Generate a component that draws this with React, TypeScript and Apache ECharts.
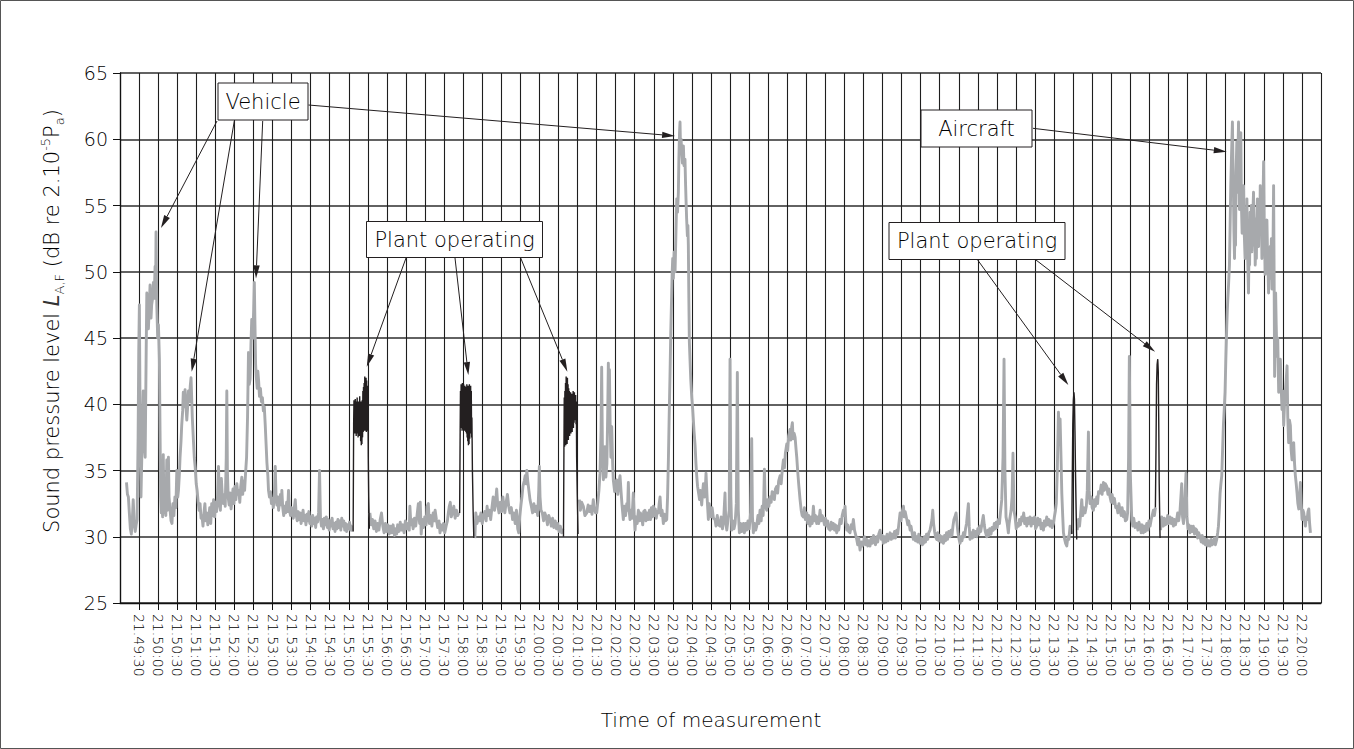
import React, { useEffect, useRef } from 'react';
import * as echarts from 'echarts';

// Time axis: seconds after 21:49:00
const TIME_LABELS = [
  '21.49:30', '21.50:00', '21.50:30', '21.51:00', '21.51:30', '21.52:00', '21.52:30', '21.53:00',
  '21.53:30', '21.54:00', '21.54:30', '21.55:00', '21.55:30', '21.56:00', '21.56:30', '21.57:00',
  '21.57:30', '21.58:00', '21.58:30', '21.59:00', '21.59:30', '22.00:00', '22.00:30', '22.01:00',
  '22.01:30', '22.02:00', '22.02:30', '22.03:00', '22.03:30', '22.04:00', '22.04:30', '22.05:00',
  '22.05:30', '22.06:00', '22.06:30', '22.07:00', '22.07:30', '22.08:00', '22.08:30', '22.09:00',
  '22.09:30', '22.10:00', '22.10:30', '22.11:00', '22.11:30', '22.12:00', '22.12:30', '22.13:00',
  '22.13:30', '22.14:00', '22.14:30', '22.15:00', '22.15:30', '22.16:00', '22.16:30', '22.17:00',
  '22.17:30', '22.18:00', '22.18:30', '22.19:00', '22.19:30', '22.20:00',
];

// Background sound level (grey trace), [seconds after 21:49:00, dB]
const GRAY_A = [
  [10.2,34.1],[11.7,33.2],[13.2,33.0],[14.7,31.8],[16.3,30.6],[17.8,30.2],[19.3,31.2],[20.8,32.8],[22.4,31.0],[23.9,30.4],
  [25.4,30.9],[26.9,31.3],[28.5,37.5],[29.5,44.0],[30.5,47.5],[31.5,40.0],[33.0,33.0],[34.5,36.5],[36.6,41.0],[38.1,37.0],
  [39.6,36.0],[41.2,44.0],[42.2,48.4],[43.7,46.0],[44.7,45.7],[46.2,47.5],[47.3,49.0],[48.8,46.5],[49.8,47.5],[51.3,48.0],
  [52.5,49.2],[53.9,48.0],[55.2,50.4],[56.1,48.5],[56.7,53.0],[57.9,47.5],[59.3,45.0],[60.5,46.0],[62.0,43.4],[63.0,38.0],
  [64.0,33.0],[65.0,31.8],[66.0,32.5],[67.1,31.5],[68.1,36.2],[69.1,32.5],[70.1,31.8],[71.1,33.0],[72.1,31.6],[73.6,35.8],
  [74.7,32.0],[76.2,36.0],[77.2,33.0],[78.8,32.0],[80.3,31.2],[81.8,31.0],[83.3,32.5],[84.8,31.6],[86.4,33.0],[87.9,32.2],
  [89.4,35.0],[90.9,33.0],[92.0,33.5],[93.5,34.8],[94.5,36.0],[96.0,37.2],[97.1,38.4],[98.6,39.5],[99.6,40.9],[101.1,39.8],
  [102.4,41.1],[103.6,40.0],[105.1,38.8],[106.2,39.6],[107.7,41.0],[109.2,40.2],[110.6,41.4],[111.8,42.0],[112.8,40.5],[113.8,39.0],
  [115.3,37.5],[116.9,36.0],[118.4,35.2],[119.9,34.0],[121.4,33.5],[123.0,32.6],[124.5,32.0],[126.0,32.5],[127.5,31.4],[129.0,31.6],
  [130.6,30.8],[132.1,31.8],[133.6,32.5],[135.1,31.2],[136.7,31.8],[138.2,30.9],[139.7,31.4],[141.2,32.2],[142.8,31.0],[144.3,32.5],
  [145.8,31.6],[147.3,32.8],[148.9,31.5],[150.4,32.6],[151.9,31.9],[153.4,33.0],[155.0,35.3],[156.5,32.4],[158.0,32.0],[159.5,34.4],
  [161.1,33.0],[162.6,32.5],[164.1,33.2],[165.6,32.3],[167.2,36.0],[168.1,41.0],[169.0,35.0],[170.2,33.0],[171.7,32.4],[173.3,33.3],
  [174.8,32.1],[176.3,32.8],[177.8,33.6],[179.3,32.5],[180.9,33.8],[182.4,32.8],[183.9,34.0],[185.4,33.2],[187.0,33.5],[188.5,32.6],
  [190.0,33.8],[191.7,34.5],[193.1,33.2],[194.6,34.2],[196.1,33.5],[197.6,34.8],[199.2,36.0],[200.7,39.0],[202.2,43.9],[203.4,41.5],
  [204.8,41.9],[206.1,44.5],[207.3,46.4],[208.8,45.0],[210.3,47.0],[211.4,49.2],[212.4,46.0],[213.4,43.0],[214.4,42.1],[215.9,41.2],
  [216.9,42.5],[218.1,41.8],[219.5,40.6],[221.0,41.2],[222.5,40.2],[224.1,40.5],[225.6,39.5],[227.1,39.8],[228.6,38.4],[229.9,37.0],
  [231.2,35.6],[232.7,34.6],[233.7,33.5],[235.2,33.0],[236.8,33.4],[238.3,32.5],[239.8,32.9],[241.3,32.2],[242.9,33.2],[244.3,35.3],
  [245.7,32.8],[246.9,32.4],[248.4,33.0],[249.6,32.0],[251.0,32.6],[252.5,33.2],[254.0,32.4],[254.7,33.5],[256.1,32.2],[257.6,31.6],
  [259.1,32.3],[260.6,31.8],[262.2,32.6],[263.7,31.9],[265.2,33.5],[266.7,32.0],[268.3,31.6],[269.8,32.2],[271.3,31.8],[272.8,31.4],
  [274.4,32.2],[275.8,32.8],[277.4,31.6],[278.9,31.2],[280.5,31.9],[282.0,31.3],[283.5,31.8],[285.0,31.0],[286.6,31.5],[288.1,32.0],
  [289.6,31.2],[291.1,31.6],[292.6,30.9],[294.2,31.7],[295.7,31.2],[297.2,31.9],[298.7,31.0],[300.3,31.5],[301.8,30.8],[303.3,31.6],
  [304.8,31.0],[306.4,31.4],[307.9,30.7],[309.4,31.5],[310.9,31.1],[312.5,31.8],[314.0,35.0],[315.5,31.4],[317.0,30.8],[318.6,31.3],
  [320.1,30.6],[321.6,31.4],[323.1,30.9],[324.7,31.5],[326.2,30.7],[327.7,31.3],[329.2,30.5],[330.8,31.2],[332.3,30.8],[333.8,31.4],
  [335.3,30.6],[336.9,31.0],[338.4,30.4],[339.9,31.1],[341.4,30.6],[342.9,31.3],[344.5,30.7],[346.0,31.2],[347.5,30.5],[349.0,31.4],
  [350.6,30.8],[352.1,31.2],[353.6,30.5],[355.1,31.0],[356.7,30.4],[358.2,30.9],[359.7,30.6],[361.2,31.1],[362.8,30.5],[364.3,30.8],
  [365.8,30.4],
];
const GRAY_B = [
  [393.2,31.8],[395.3,30.9],[397.3,31.3],[399.3,30.6],[401.4,31.2],[403.4,30.4],[405.4,31.0],[407.5,30.5],[409.5,31.3],[411.5,31.8],
  [413.6,30.8],[415.6,30.3],[417.6,31.0],[419.7,30.4],[421.7,30.9],[423.7,30.2],[425.8,30.8],[427.8,30.3],[429.8,30.9],[431.9,30.1],
  [433.9,30.6],[435.4,30.2],[436.9,30.9],[439.0,30.4],[441.0,31.1],[443.0,30.5],[445.1,30.9],[447.1,30.3],[449.1,31.2],[451.2,30.6],
  [453.2,31.0],[455.2,30.5],[456.2,32.3],[457.8,30.9],[459.3,31.3],[461.3,30.6],[463.4,31.4],[465.4,30.8],[467.4,31.6],[469.5,32.5],
  [471.5,31.0],[472.5,32.6],[474.0,30.2],[475.6,31.3],[477.6,30.7],[479.6,31.5],[481.7,30.9],[483.2,32.3],[485.2,32.5],[486.7,31.0],
  [488.8,31.6],[490.8,30.8],[492.8,31.8],[494.9,31.2],[495.9,32.0],[497.9,31.3],[499.9,30.7],[502.0,31.2],[503.6,30.3],[505.0,30.9],
  [507.1,30.5],[509.1,31.0],[511.1,30.3],[513.2,30.8],[515.2,31.2],[516.7,31.8],[518.2,32.3],[519.8,32.6],[521.3,31.5],[523.3,31.8],
  [525.3,32.3],[527.4,31.4],[529.4,32.0],[531.4,31.6],[533.5,31.8],
];
const GRAY_C = [
  [558.4,29.9],[559.9,31.8],[561.9,31.0],[564.0,31.5],[566.0,31.2],[568.0,31.8],[570.1,31.0],[572.1,31.6],[574.1,31.9],[576.2,31.2],
  [577.7,32.3],[579.2,31.6],[581.2,32.0],[583.3,31.3],[585.3,32.2],[587.3,33.0],[589.4,32.0],[591.4,32.8],[592.8,33.6],[594.4,32.4],
  [596.5,31.8],[598.5,32.6],[600.5,31.9],[602.6,33.0],[604.1,32.3],[605.6,31.8],[607.7,32.6],[609.7,33.2],[611.7,32.3],[613.7,31.8],
  [615.8,32.2],[617.8,31.3],[619.8,31.8],[621.9,31.0],[623.9,32.0],[625.9,30.6],[627.5,30.3],[629.0,31.5],[631.0,32.4],[632.5,33.0],
  [634.1,33.8],[636.1,34.2],[637.6,34.6],[639.2,34.0],[640.2,35.0],[641.7,34.2],[643.2,33.6],[645.2,32.8],[647.3,32.3],[649.3,31.8],
  [651.3,32.5],[653.4,31.9],[655.4,32.3],[657.4,31.6],[659.0,33.5],[659.9,35.3],[661.0,33.0],[662.5,32.0],[664.6,31.8],[666.6,31.2],
  [668.6,31.8],[670.7,31.5],[672.7,30.9],[674.7,31.6],[676.7,31.3],[678.8,30.8],[680.8,31.4],[682.8,30.7],[684.9,31.2],[686.9,30.6],
  [688.9,31.0],[691.0,30.4],[693.0,30.8],[695.0,30.3],[697.1,30.6],
];
const GRAY_D = [
  [722.9,32.8],[724.5,32.0],[726.5,32.6],[729.2,32.3],[731.6,31.6],[734.5,31.8],[736.7,32.4],[738.7,31.9],[740.8,32.3],[742.8,31.7],
  [744.8,32.8],[746.9,32.1],[748.4,31.8],[750.2,31.8],[751.9,32.6],[753.7,33.5],[755.4,34.8],[757.0,38.0],[758.0,42.8],[759.1,37.0],
  [760.7,34.3],[762.1,35.5],[763.3,36.8],[764.6,34.5],[766.2,35.5],[767.4,39.0],[768.5,43.1],[769.4,40.0],[770.2,42.6],[771.3,38.5],
  [772.5,36.0],[773.8,38.3],[775.3,35.5],[776.3,34.3],[778.4,33.4],[779.9,34.0],[781.7,34.3],[783.4,33.2],[784.9,34.0],[786.9,34.6],
  [788.5,33.4],[790.0,32.4],[792.1,31.3],[793.6,32.3],[795.6,31.6],[797.5,32.5],[798.7,32.0],[800.0,34.1],[801.2,32.0],[802.6,31.3],
  [804.3,32.0],[805.8,31.4],[807.8,33.3],[809.2,31.6],[810.5,30.5],[811.9,31.5],[813.9,31.0],[815.8,32.0],[817.5,31.2],[819.0,31.8],
  [821.0,31.5],[822.6,30.9],[824.1,31.9],[826.1,32.0],[827.6,31.2],[829.2,31.8],[831.4,31.3],[833.2,32.0],[834.8,31.3],[836.3,32.2],
  [837.8,31.5],[839.3,32.3],[840.9,31.6],[842.4,32.1],[843.9,31.4],[845.4,31.9],[847.2,31.8],[848.5,32.5],[849.9,33.0],[851.5,31.6],
  [853.1,32.0],[855.1,31.0],[856.6,31.7],[858.6,31.2],[860.4,31.3],[861.7,33.0],[863.0,35.8],[864.2,39.0],[865.5,42.1],[866.8,45.5],
  [868.2,48.4],[869.0,50.0],[869.8,51.0],[870.8,49.5],[872.1,51.5],[873.5,50.0],[874.9,53.0],[876.1,55.5],[877.4,54.5],[878.7,56.0],
  [879.5,58.5],[880.5,60.5],[881.3,61.3],[882.2,59.0],[883.0,60.0],[884.0,59.0],[885.1,58.2],[886.6,59.5],[887.6,58.0],[889.1,58.5],
  [890.1,56.5],[890.7,55.5],[891.7,54.0],[892.9,52.7],[893.7,53.5],[894.4,52.0],[895.2,48.0],[896.0,44.7],[897.3,43.0],[898.2,41.9],
  [899.8,40.5],[901.3,39.6],[903.3,38.0],[905.0,36.9],[906.4,35.5],[907.6,34.6],[908.9,33.8],[910.2,33.4],[912.0,32.8],[913.5,33.5],
  [915.4,32.4],[916.6,33.2],[918.1,34.0],[919.6,33.0],[921.1,33.6],[922.2,34.8],[923.7,33.2],[924.7,32.3],[925.9,31.3],[927.2,32.5],
  [928.6,32.1],[930.3,31.5],[931.8,32.2],[933.8,31.4],[936.4,31.3],[937.9,30.8],[939.9,31.6],[942.0,30.9],[944.3,30.8],[946.0,31.5],
  [948.1,30.6],[950.1,31.4],[952.1,33.3],[953.3,31.0],[954.9,30.5],[956.7,31.2],[958.7,32.0],[960.0,43.4],[961.3,33.0],[962.7,30.5],
  [964.3,31.2],[966.3,30.6],[968.0,31.0],[969.9,32.5],[971.5,42.4],[973.0,32.0],[974.7,30.3],[976.5,31.0],[978.5,30.4],[981.0,31.0],
  [982.6,30.3],[984.6,31.0],[986.3,30.5],[988.2,31.2],[990.2,30.6],[992.3,31.8],[994.1,37.4],[995.3,31.5],[996.7,30.3],[998.4,31.0],
  [1000.4,30.5],[1002.0,30.8],[1003.9,31.6],[1005.5,31.0],[1007.2,32.0],[1009.0,31.2],[1010.5,32.3],[1012.1,31.6],[1013.1,33.0],[1014.1,35.1],
  [1015.4,32.5],[1017.7,32.0],[1019.2,32.8],[1021.2,32.3],[1022.9,33.0],[1024.7,32.6],[1026.3,33.4],[1028.2,33.3],[1029.8,32.8],[1031.4,33.6],
  [1033.4,33.8],[1034.9,33.3],[1036.5,34.2],[1038.7,34.6],[1040.5,34.0],[1042.1,35.0],[1044.0,35.8],[1045.6,35.2],[1047.1,36.3],[1049.3,37.0],
  [1050.7,36.5],[1052.2,37.6],[1054.5,38.1],[1055.8,37.3],[1057.1,38.3],[1058.1,38.6],[1059.3,37.4],[1060.9,37.8],[1062.4,37.5],[1063.9,36.6],
  [1065.0,36.0],[1066.4,35.0],[1068.0,34.0],[1070.2,32.8],[1072.0,32.0],[1073.5,31.6],[1075.5,31.5],[1077.1,32.2],[1078.6,31.3],[1080.8,31.8],
  [1082.2,31.0],[1083.9,31.6],[1085.9,30.8],[1087.8,31.5],[1089.3,31.0],[1091.2,32.3],[1092.9,31.2],[1094.4,31.6],[1096.4,31.0],[1097.9,31.5],
  [1099.5,31.0],[1101.7,32.0],[1103.5,31.2],[1105.1,31.6],[1106.9,31.3],[1108.6,30.9],[1110.1,31.4],[1112.2,30.8],[1113.7,31.2],[1115.2,30.6],
  [1117.5,30.5],[1119.3,31.1],[1120.8,30.6],[1122.6,31.0],[1124.4,30.5],[1125.9,30.9],[1127.9,30.3],[1129.4,30.8],[1131.0,30.5],[1133.1,31.3],
  [1135.0,31.0],[1136.5,31.6],[1138.4,32.0],[1139.6,31.6],[1141.0,32.3],[1142.1,31.2],[1143.7,30.5],[1145.2,30.9],[1146.7,30.4],[1148.8,30.3],
  [1150.8,30.9],[1152.3,30.6],[1154.1,31.3],[1155.9,30.5],[1157.4,30.2],[1159.4,29.8],[1160.9,29.4],[1162.5,29.9],[1164.6,29.0],[1166.5,29.6],
  [1168.1,29.3],[1169.9,29.5],[1171.6,30.0],[1173.1,29.4],[1175.2,29.8],[1176.7,29.3],[1178.7,29.7],[1180.3,29.3],[1182.3,29.9],[1183.8,29.5],
  [1185.8,30.1],[1187.4,29.6],[1188.9,29.4],[1190.9,30.0],[1192.4,29.6],[1194.0,30.2],[1196.1,30.5],[1198.0,29.8],[1199.6,30.1],[1201.4,29.5],
  [1203.1,30.0],[1205.1,29.6],[1207.2,30.2],[1208.7,29.7],[1210.2,30.0],[1211.9,30.3],[1213.8,29.8],[1215.3,30.2],[1217.3,29.9],[1218.9,30.4],
  [1220.4,29.9],[1222.4,30.5],[1223.9,30.2],[1225.5,30.9],[1227.6,31.8],[1229.0,31.2],[1230.5,31.8],[1232.9,32.3],[1234.1,31.5],[1235.6,31.9],
  [1238.2,31.3],[1239.7,30.9],[1241.2,31.2],[1243.4,30.5],[1244.8,30.8],[1246.8,30.2],[1248.6,29.8],[1250.4,30.3],[1251.9,29.7],[1253.9,30.0],
  [1255.4,29.6],[1257.0,30.2],[1259.0,29.5],[1261.0,29.9],[1262.6,29.4],[1264.4,29.5],[1266.1,30.0],[1267.6,29.6],[1269.2,30.2],[1271.2,29.8],
  [1272.7,30.3],[1274.7,30.5],[1276.3,30.9],[1277.8,31.3],[1279.0,32.0],[1280.3,31.0],[1281.9,30.4],[1283.4,30.0],[1285.3,29.8],[1286.9,30.3],
  [1288.5,29.7],[1290.5,30.1],[1292.0,29.6],[1293.5,30.0],[1295.8,29.5],[1297.6,30.1],[1299.1,29.7],[1300.7,30.3],[1302.2,29.8],[1304.2,30.4],
  [1306.2,30.0],[1307.8,30.5],[1309.3,30.1],[1310.8,30.8],[1312.3,31.3],[1313.9,31.5],[1315.7,31.8],[1317.4,30.9],[1319.0,30.2],[1320.5,29.8],
  [1322.0,29.5],[1323.5,30.0],[1325.0,29.7],[1327.3,30.3],[1329.1,30.0],[1330.6,30.6],[1332.2,31.0],[1333.7,31.8],[1335.1,32.5],[1336.4,30.8],
  [1337.7,29.8],[1339.3,30.3],[1341.3,29.9],[1342.8,30.5],[1344.4,30.0],[1346.4,30.4],[1348.3,30.0],[1349.9,30.6],[1351.5,30.2],[1353.0,30.8],
  [1354.5,30.4],[1356.5,31.0],[1358.6,31.6],[1360.1,30.9],[1361.6,30.4],[1364.0,30.0],[1365.7,30.5],[1367.2,30.1],[1368.7,30.6],[1370.8,30.2],
  [1372.3,30.7],[1374.4,30.5],[1375.9,31.0],[1377.4,30.6],[1378.9,31.1],[1380.4,30.7],[1382.3,31.3],[1384.0,31.0],[1385.5,31.8],[1387.6,32.8],
  [1389.6,36.0],[1391.2,43.4],[1392.6,35.0],[1394.3,31.5],[1396.2,31.0],[1398.0,30.3],[1399.2,31.0],[1400.7,31.5],[1402.3,32.0],[1403.8,33.0],
  [1405.3,36.3],[1406.8,32.0],[1408.5,31.5],[1410.4,30.6],[1411.9,31.0],[1413.8,30.8],[1415.5,31.3],[1417.0,30.9],[1419.0,31.5],[1420.6,31.2],
  [1422.1,31.8],[1423.6,31.0],[1425.1,31.4],[1427.0,30.8],[1428.7,31.4],[1430.2,31.0],[1432.1,31.5],[1433.8,30.8],[1435.8,31.4],[1437.4,31.0],
  [1439.4,31.5],[1440.9,30.6],[1442.7,30.8],[1444.4,31.4],[1446.0,30.9],[1447.9,31.3],[1449.5,30.6],[1451.0,31.0],[1453.2,30.5],[1454.6,31.2],
  [1456.1,30.8],[1458.4,31.5],[1460.2,30.9],[1461.7,31.3],[1463.6,30.8],[1465.3,31.2],[1466.8,30.7],[1468.9,31.0],[1470.4,31.5],[1471.9,31.9],
  [1473.4,32.5],[1475.0,35.0],[1476.8,39.4],[1478.0,37.0],[1479.4,38.9],[1480.6,36.5],[1482.1,33.3],[1483.6,31.5],[1484.7,30.3],[1486.6,29.8],
  [1488.1,29.5],[1489.9,29.3],[1491.7,30.0],[1493.2,29.8],[1495.1,30.8],[1496.8,30.4],[1497.8,30.2],
];
const GRAY_E = [
  [1506.4,30.5],[1508.3,31.3],[1510.0,30.8],[1511.5,31.6],[1513.5,32.8],[1515.1,31.6],[1516.6,32.2],[1518.7,31.8],[1520.7,32.3],[1522.2,33.5],
  [1524.0,37.9],[1525.2,33.5],[1526.5,32.5],[1528.3,33.0],[1529.8,32.2],[1531.8,32.0],[1533.4,32.8],[1534.9,32.3],[1537.1,33.0],[1538.4,32.5],
  [1539.9,33.4],[1542.3,33.3],[1544.0,33.9],[1545.5,33.2],[1547.6,34.1],[1549.1,33.5],[1550.6,34.0],[1552.9,33.8],[1554.7,33.2],[1556.2,33.6],
  [1558.0,33.0],[1559.8,32.6],[1561.3,33.2],[1563.3,32.5],[1564.9,32.9],[1566.9,32.2],[1568.5,32.3],[1570.4,31.8],[1572.0,32.5],[1573.8,32.0],
  [1575.5,31.6],[1577.0,32.2],[1579.1,31.5],[1580.6,31.9],[1582.1,31.2],[1584.3,31.3],[1585.7,31.8],[1587.2,36.0],[1588.4,43.6],[1589.8,35.0],
  [1592.2,31.3],[1593.8,30.8],[1595.3,31.4],[1597.4,30.7],[1600.0,31.0],[1601.9,30.5],[1603.5,31.1],[1605.3,30.8],[1607.0,30.3],[1608.5,30.9],
  [1610.5,30.3],[1612.1,30.8],[1613.6,30.4],[1615.8,31.0],[1617.7,30.5],[1619.2,31.2],[1621.0,30.8],[1622.8,31.3],[1624.3,31.6],[1626.2,32.0],
  [1627.9,31.6],[1629.4,32.2],
];
const GRAY_F = [
  [1637.5,30.5],[1639.3,31.5],[1642.0,30.8],[1643.6,31.4],[1645.1,30.9],[1647.2,31.0],[1648.7,31.6],[1650.2,31.0],[1652.4,31.5],[1654.3,31.0],
  [1655.8,31.4],[1657.7,30.8],[1659.4,31.3],[1660.9,30.9],[1662.9,31.3],[1664.4,31.8],[1666.0,31.2],[1668.2,32.0],[1669.5,33.0],[1670.8,34.0],
  [1672.1,31.5],[1673.6,31.0],[1675.1,31.8],[1676.4,33.5],[1677.6,34.8],[1679.0,31.5],[1680.7,30.6],[1682.2,30.9],[1683.9,30.3],[1685.8,30.8],
  [1687.3,30.4],[1689.1,30.8],[1690.9,30.2],[1692.4,30.6],[1694.4,30.5],[1695.9,29.9],[1697.5,30.3],[1699.7,30.0],[1701.5,29.6],[1703.1,30.1],
  [1704.9,29.5],[1706.6,29.9],[1708.1,29.4],[1710.2,29.8],[1711.7,29.3],[1713.2,29.7],[1715.4,29.3],[1717.3,29.8],[1718.8,29.4],[1720.6,29.5],
  [1722.4,29.9],[1723.9,29.4],[1725.9,29.8],[1727.4,30.3],[1728.6,30.8],[1730.0,32.0],[1731.2,33.3],[1732.5,34.0],[1733.8,34.6],[1735.1,36.5],
  [1736.4,38.4],[1737.6,39.5],[1739.0,40.9],[1740.3,43.5],[1741.7,45.9],[1742.5,47.0],[1743.3,47.9],[1744.5,49.0],[1745.9,50.5],[1747.0,53.5],
  [1748.0,56.5],[1749.3,59.0],[1750.6,61.3],[1751.4,58.5],[1752.2,56.0],[1753.0,53.0],[1753.9,51.0],[1754.7,54.5],[1755.5,52.0],[1756.4,57.5],
  [1757.5,59.8],[1758.4,56.0],[1759.2,58.5],[1760.2,61.3],[1761.0,57.0],[1761.7,54.7],[1762.6,58.0],[1763.8,60.5],[1764.8,55.0],[1765.9,52.9],
  [1767.1,55.5],[1768.1,56.5],[1769.1,53.0],[1770.7,51.0],[1771.6,54.0],[1772.3,52.0],[1773.4,55.5],[1774.4,51.5],[1775.9,48.4],[1776.8,52.0],
  [1777.6,50.5],[1778.5,54.5],[1779.5,52.0],[1780.4,55.0],[1781.2,51.5],[1782.3,53.5],[1783.8,56.0],[1784.9,52.0],[1785.7,54.0],[1786.5,50.5],
  [1787.4,52.5],[1788.3,51.0],[1789.1,53.9],[1790.0,55.5],[1790.8,52.5],[1791.8,51.9],[1792.7,54.5],[1793.6,52.8],[1794.4,56.5],[1795.3,53.0],
  [1796.2,55.0],[1797.0,51.0],[1798.0,53.0],[1798.8,55.5],[1799.7,58.3],[1800.6,54.0],[1801.4,52.0],[1802.2,49.8],[1803.1,52.5],[1804.1,51.0],
  [1804.9,53.9],[1805.8,51.5],[1806.7,50.0],[1807.5,48.4],[1808.4,51.0],[1809.2,49.5],[1810.2,51.9],[1811.1,50.5],[1811.9,52.5],[1812.8,48.7],
  [1813.7,50.5],[1814.5,52.0],[1815.4,56.5],[1816.2,50.0],[1817.0,42.1],[1817.8,45.0],[1818.6,48.4],[1819.5,46.0],[1820.7,43.6],[1821.9,45.0],
  [1823.4,40.9],[1824.6,42.5],[1826.0,43.4],[1827.2,41.5],[1828.6,39.6],[1829.9,41.0],[1831.3,38.4],[1832.6,40.0],[1833.9,40.9],[1835.2,41.8],
  [1836.6,42.9],[1837.7,39.0],[1839.1,37.1],[1840.4,38.8],[1841.8,38.4],[1843.1,36.5],[1844.4,35.8],[1845.7,37.0],[1847.0,37.1],[1848.4,35.5],
  [1849.7,34.6],[1851.0,34.0],[1852.3,33.3],[1853.6,32.5],[1855.0,32.1],[1856.3,33.0],[1857.6,34.1],[1858.9,32.5],[1860.2,31.3],[1861.6,32.0],
  [1862.9,31.8],[1864.2,31.2],[1865.5,30.8],[1866.8,31.5],[1868.2,31.3],[1869.5,31.9],[1870.8,32.1],[1872.1,31.0],[1873.4,30.3],
];

// Plant operating (black trace), [seconds after 21:49:00, dB]
const PLANT_1 = [
  [366.9,30.4],[367.7,38.5],[368.2,40.3],[368.7,38.0],[369.2,40.0],[369.7,37.8],[370.2,40.4],[370.7,38.2],[371.2,39.8],[371.7,37.6],
  [372.2,40.2],[372.7,38.0],[373.2,40.5],[373.7,37.8],[374.2,39.9],[374.7,37.5],[375.2,40.2],[375.7,37.9],[376.2,40.0],[376.7,37.6],
  [377.2,40.6],[377.7,38.0],[378.2,39.8],[378.7,37.2],[379.2,40.2],[379.7,36.9],[380.2,39.6],[380.7,37.0],[381.2,40.3],[381.7,37.5],
  [382.2,41.0],[382.7,37.9],[383.2,41.3],[383.7,38.0],[384.2,41.6],[384.7,38.2],[385.2,42.1],[385.7,38.0],[386.2,41.5],[386.7,38.3],
  [387.2,42.0],[387.7,37.9],[388.2,41.8],[388.7,38.2],[389.2,41.4],[389.7,38.0],[390.2,40.5],[390.7,36.0],[391.4,33.0],[392.4,30.6],
];
const PLANT_2 = [
  [534.5,31.8],[535.3,38.0],[535.8,41.0],[536.3,38.2],[536.8,41.5],[537.3,38.4],[537.8,41.2],[538.3,38.0],[538.8,41.6],[539.3,38.3],
  [539.8,41.3],[540.3,38.1],[540.8,41.5],[541.3,38.5],[541.8,41.2],[542.3,38.0],[542.8,41.4],[543.3,38.2],[543.8,41.0],[544.3,37.9],
  [544.8,41.3],[545.3,37.8],[545.8,41.5],[546.3,37.5],[546.8,41.1],[547.3,37.2],[547.8,41.4],[548.3,36.9],[548.8,41.2],[549.3,37.0],
  [549.8,41.5],[550.3,37.4],[550.8,41.3],[551.3,37.8],[551.8,41.4],[552.3,38.0],[552.8,41.0],[553.3,37.5],[553.8,39.0],[554.6,35.0],
  [555.7,32.0],[556.8,29.9],
];
const PLANT_3 = [
  [697.9,30.0],[698.6,36.5],[699.1,40.5],[699.6,36.8],[700.1,41.0],[700.6,37.2],[701.1,41.6],[701.6,36.9],[702.1,42.1],[702.6,37.4],
  [703.1,41.8],[703.6,37.0],[704.1,42.0],[704.6,37.5],[705.1,41.5],[705.6,37.3],[706.1,41.2],[706.6,37.8],[707.1,41.0],[707.6,37.6],
  [708.1,40.6],[708.6,38.0],[709.1,40.9],[709.6,37.8],[710.1,40.4],[710.6,38.2],[711.1,40.8],[711.6,37.9],[712.1,40.5],[712.6,38.4],
  [713.1,41.0],[713.6,38.2],[714.1,40.6],[714.6,38.6],[715.1,40.9],[715.6,38.8],[716.1,40.4],[716.6,39.0],[717.1,40.7],[717.6,38.5],
  [718.1,40.2],[718.6,36.0],[719.7,33.0],[720.8,30.2],
];
const PLANT_4 = [
  [1497.8,30.2],[1498.6,34.5],[1499.4,38.5],[1500.3,40.3],[1501.2,40.9],[1502.0,40.4],[1502.8,38.0],[1503.8,34.5],[1504.8,31.5],[1505.6,29.8],
];
const PLANT_5 = [
  [1629.4,32.2],[1630.4,37.0],[1631.2,41.5],[1632.1,43.0],[1633.1,43.4],[1633.9,42.5],[1634.6,39.0],[1635.4,34.0],[1636.7,29.9],
];

// Annotation texts and the data points their arrows point at
const NOTE_TEXTS = ['Vehicle', 'Plant operating', 'Aircraft', 'Plant operating'];
const ARROW_TARGETS = [
  [64.5, 53.3], [112.8, 42.46], [214.0, 49.5], [873.5, 60.25],
  [388.3, 42.83], [548.2, 42.2], [704.0, 42.46],
  [1741.7, 59.06],
  [1492.4, 41.45], [1628.9, 43.97],
];

// Layout of annotation boxes (pixels) and arrow starts
const NOTE_BOXES = [
  { x: 218, y: 83, w: 90, h: 37 },
  { x: 366.5, y: 221.5, w: 176, h: 36 },
  { x: 921, y: 110, w: 111, h: 37 },
  { x: 889, y: 222.5, w: 176, h: 37 },
];
const ARROW_STARTS = [
  [217, 121], [234.3, 121], [262.7, 121], [308.5, 105],
  [406, 258], [455, 258], [520.7, 258],
  [1033, 128.3],
  [977.7, 260], [1036, 260],
];

const FONT = 'DejaVu Sans';
const WEIGHT = 300;
const TXT = '#000000';
const GREY = '#a7a9ac';
const INK = '#231f20';

export default function App() {
  const ref = useRef<HTMLDivElement>(null);

  useEffect(() => {
    const chart = echarts.init(ref.current!, null, { renderer: 'svg' });

    const grey = [GRAY_A, GRAY_B, GRAY_C, GRAY_D, GRAY_E, GRAY_F].map((d) => ({
      type: 'line', data: d, showSymbol: false, symbol: 'none', z: 3,
      lineStyle: { color: GREY, width: 2.9, join: 'round' }, silent: true,
    }));
    const black = [PLANT_1, PLANT_2, PLANT_3, PLANT_4, PLANT_5].map((d) => ({
      type: 'line', data: d, showSymbol: false, symbol: 'none', z: 4,
      lineStyle: { color: INK, width: 1.4 }, silent: true,
    }));

    chart.setOption({
      animation: false,
      backgroundColor: '#ffffff',
      grid: { left: 120, right: 33, top: 73, bottom: 146, containLabel: false },
      xAxis: {
        type: 'value', min: 0, max: 1890, interval: 30,
        axisLine: { show: true, lineStyle: { color: '#111', width: 1.3 } },
        axisTick: { show: true, length: 7, lineStyle: { color: '#111', width: 1 } },
        splitLine: { show: true, lineStyle: { color: '#1e1e1e', width: 1.1 } },
        axisLabel: {
          rotate: -90, margin: 11, fontSize: 14, fontFamily: FONT, fontWeight: WEIGHT, color: TXT,
          showMinLabel: false, showMaxLabel: false,
          formatter: (v: number) => TIME_LABELS[Math.round(v / 30) - 1] ?? '',
        },
      },
      yAxis: {
        type: 'value', min: 25, max: 65, interval: 5,
        axisLine: { show: true, lineStyle: { color: '#111', width: 1.3 } },
        axisTick: { show: true, length: 7, lineStyle: { color: '#111', width: 1 } },
        splitLine: { show: true, lineStyle: { color: '#2e2e2e', width: 1.5 } },
        axisLabel: { margin: 12, fontSize: 19, fontFamily: FONT, fontWeight: WEIGHT, color: TXT },
      },
      series: [...grey, ...black],
    });

    const els: any[] = [];
    const Z = 100;
    NOTE_BOXES.forEach((b, i) => {
      els.push({
        type: 'rect', z: Z,
        shape: { x: b.x, y: b.y, width: b.w, height: b.h },
        style: { fill: '#fff', stroke: INK, lineWidth: 1 },
      });
      els.push({
        type: 'text', z: Z + 1, x: b.x + b.w / 2, y: b.y + b.h / 2,
        style: {
          text: NOTE_TEXTS[i], fontSize: 21, fontFamily: FONT, fontWeight: WEIGHT, fill: TXT,
          align: 'center', verticalAlign: 'middle', textAlign: 'center', textVerticalAlign: 'middle',
        },
      });
    });
    ARROW_TARGETS.forEach((tgt, i) => {
      const to = chart.convertToPixel({ gridIndex: 0 }, tgt) as number[];
      const from = ARROW_STARTS[i];
      const dx = to[0] - from[0];
      const dy = to[1] - from[1];
      const len = Math.hypot(dx, dy);
      const ux = dx / len;
      const uy = dy / len;
      const hl = 13;
      const hw = 3.2;
      const bx = to[0] - ux * hl;
      const by = to[1] - uy * hl;
      els.push({
        type: 'line', z: Z,
        shape: { x1: from[0], y1: from[1], x2: bx, y2: by },
        style: { stroke: INK, lineWidth: 1 },
      });
      els.push({
        type: 'polygon', z: Z,
        shape: { points: [[to[0], to[1]], [bx - uy * hw, by + ux * hw], [bx + uy * hw, by - ux * hw]] },
        style: { fill: INK },
      });
    });

    // Axis titles
    els.push({
      type: 'text', z: Z, x: 52, y: 321, rotation: Math.PI / 2,
      style: {
        text: '{n|Sound pressure level }{it|L}{sub|A,F}{n| (dB re 2.10}{sup|-5}{n|P}{sub|a}{n|)}',
        fill: TXT, fontFamily: FONT, fontSize: 21, fontWeight: WEIGHT,
        align: 'center', verticalAlign: 'middle', textAlign: 'center', textVerticalAlign: 'middle',
        rich: {
          n: { fontSize: 21, fontFamily: FONT, fontWeight: WEIGHT, lineHeight: 27, verticalAlign: 'middle', fill: TXT },
          it: { fontSize: 21, fontFamily: FONT, fontWeight: 'normal', fontStyle: 'italic', lineHeight: 27, verticalAlign: 'middle', fill: '#333' },
          sub: { fontSize: 13, fontFamily: FONT, fontWeight: WEIGHT, lineHeight: 13, verticalAlign: 'bottom', fill: TXT },
          sup: { fontSize: 13, fontFamily: FONT, fontWeight: WEIGHT, lineHeight: 13, verticalAlign: 'top', fill: TXT },
        },
      },
    });
    els.push({
      type: 'text', z: Z, x: 711, y: 720,
      style: {
        text: 'Time of measurement', fill: TXT, fontFamily: FONT, fontSize: 20, fontWeight: WEIGHT,
        align: 'center', verticalAlign: 'middle', textAlign: 'center', textVerticalAlign: 'middle',
      },
    });
    // Outer frame
    els.push({
      type: 'rect', z: Z,
      shape: { x: 0.5, y: 0.5, width: 1353, height: 748 },
      style: { fill: 'none', stroke: '#555', lineWidth: 1 },
    });

    chart.setOption({ graphic: { elements: els } });

    return () => chart.dispose();
  }, []);

  return (
    <div
      ref={ref}
      style={{ position: 'fixed', left: 0, top: 0, width: 1354, height: 749, background: '#fff' }}
    />
  );
}
